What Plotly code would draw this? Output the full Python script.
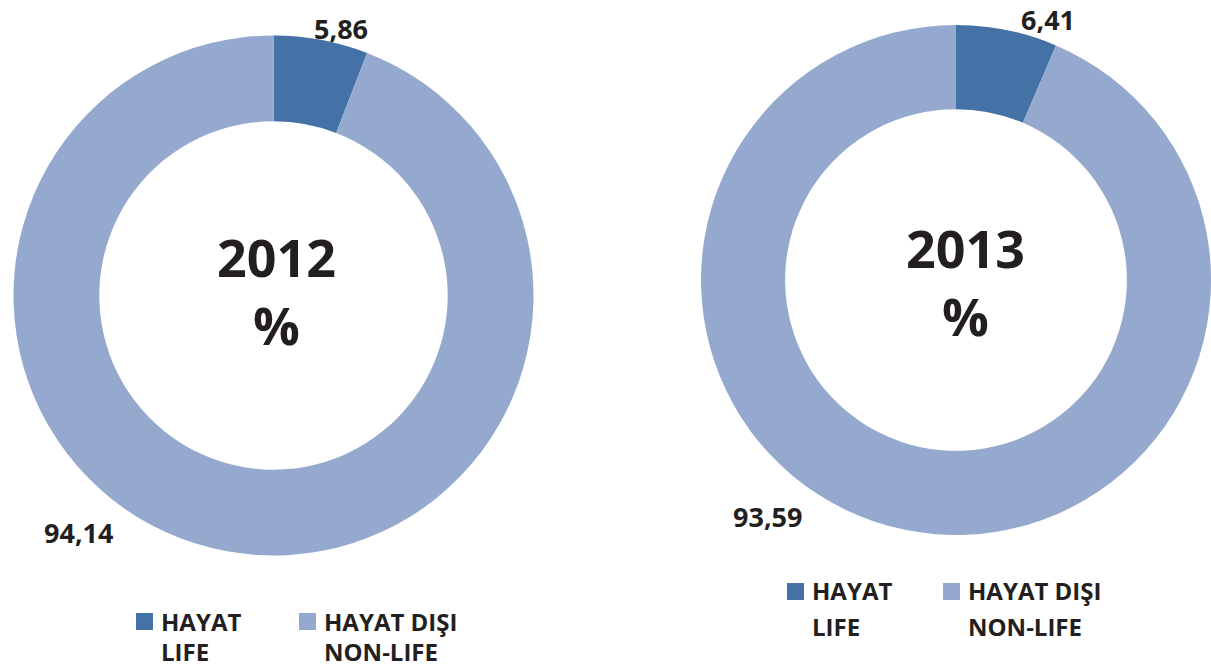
import plotly.graph_objects as go

# ---- data ----
years = ["2012", "2013"]
labels_tr = ["HAYAT", "HAYAT DIŞI"]
labels_en = ["LIFE", "NON-LIFE"]
life = [5.86, 6.41]
nonlife = [94.14, 93.59]

colors = ["#4472a7", "#95a9cf"]
TXT = "#231f20"
FONT = "Open Sans"
W, H = 1211, 668


def px(x):
    return x / W


def py(y):
    return 1 - y / H


def fmt(v):
    return f"{v:.2f}".replace(".", ",")


# pie geometry in pixels: (center x, center y, radius)
geo = [(273.5, 295.5, 260), (956, 280, 255)]

fig = go.Figure()
for i, yr in enumerate(years):
    cx, cy, r = geo[i]
    x0 = max(cx - r, 0)
    x1 = min(cx + r, W)
    fig.add_trace(go.Pie(
        labels=[f"{a} / {b}" for a, b in zip(labels_tr, labels_en)],
        values=[life[i], nonlife[i]],
        hole=0.67,
        sort=False,
        direction="clockwise",
        rotation=0,
        marker=dict(colors=colors, line=dict(width=0)),
        textinfo="none",
        showlegend=False,
        domain=dict(x=[px(x0), px(x1)], y=[py(cy + r), py(cy - r)]),
        name=yr,
    ))

annotations = []


def ann(text, x, y, size, xanchor="center"):
    annotations.append(dict(
        text=text, x=px(x), y=py(y), xref="paper", yref="paper",
        xanchor=xanchor, yanchor="middle", showarrow=False,
        font=dict(family=FONT, size=size, color=TXT, weight="bold"),
    ))


# center titles
ann(f"{years[0]}<br>%", 276.5, 290, 52)
ann(f"{years[1]}<br>%", 965, 282, 52)

# value labels
ann(fmt(life[0]), 340.5, 28, 27)
ann(fmt(nonlife[0]), 78.5, 532.5, 27)
ann(fmt(life[1]), 1047.5, 19, 27)
ann(fmt(nonlife[1]), 767.5, 516, 27)

# legends (manual): square positions and text positions in px
legend_specs = [
    [(136, 613, 159, 621, 651), (299, 613, 322, 621, 651)],
    [(787, 583, 810, 590.5, 626), (943, 583, 966, 590.5, 626)],
]
shapes = []
for lg in legend_specs:
    for k, (sx, sy, tx, y1, y2) in enumerate(lg):
        shapes.append(dict(type="rect", xref="paper", yref="paper",
                           x0=px(sx), x1=px(sx + 17), y0=py(sy + 17), y1=py(sy),
                           fillcolor=colors[k], line=dict(width=0)))
        ann(labels_tr[k], tx, y1, 24, xanchor="left")
        ann(labels_en[k], tx, y2, 24, xanchor="left")

fig.update_layout(
    width=W, height=H,
    margin=dict(l=0, r=0, t=0, b=0),
    paper_bgcolor="white",
    plot_bgcolor="white",
    annotations=annotations,
    shapes=shapes,
    font=dict(family=FONT, color=TXT),
)

fig.write_html(
    "out.html",
    config={"displayModeBar": False},
    post_script="document.body.style.margin='0px';document.body.style.overflow='hidden';",
)
